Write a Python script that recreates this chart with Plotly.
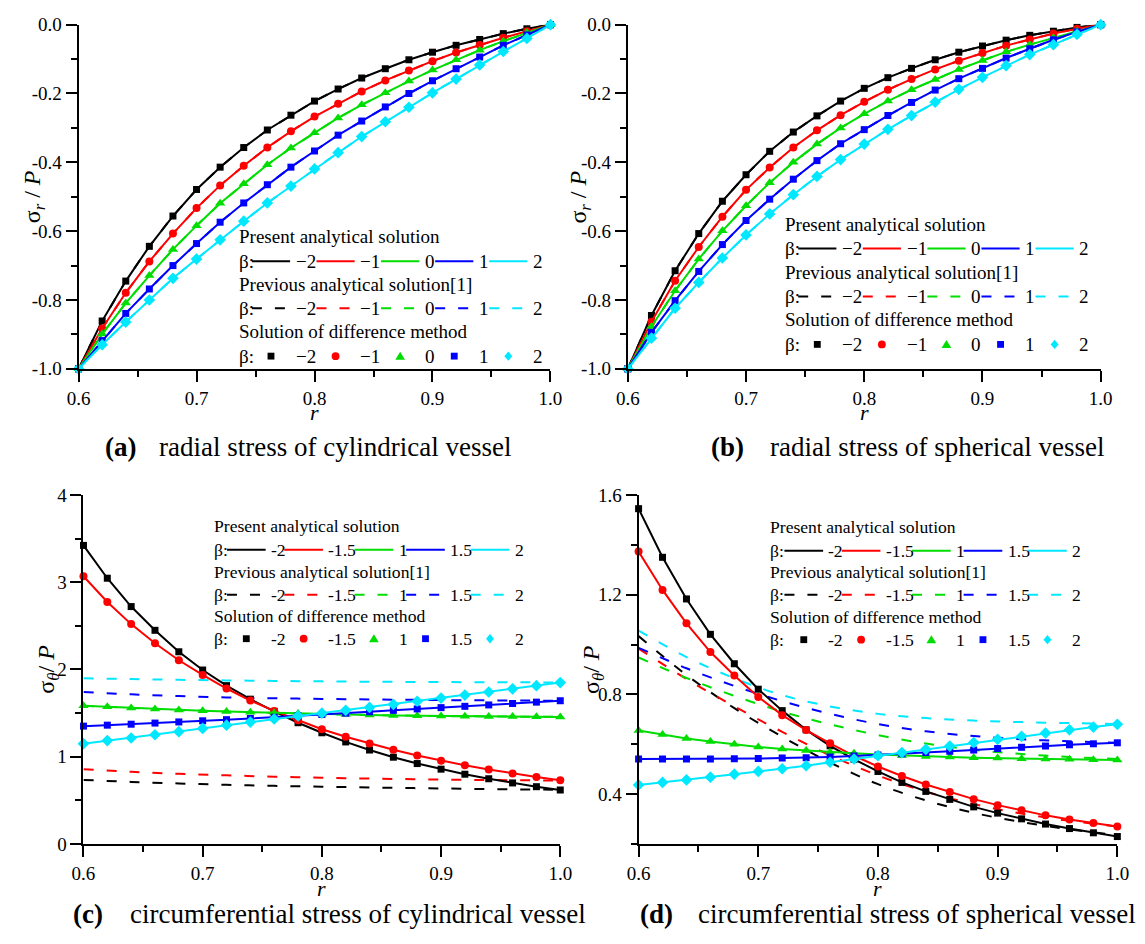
import plotly.graph_objects as go

W, H = 1145, 944
FONT = "Liberation Serif"

# ---------------- data ----------------
r = [0.60, 0.62, 0.64, 0.66, 0.68, 0.70, 0.72, 0.74, 0.76, 0.78, 0.80,
     0.82, 0.84, 0.86, 0.88, 0.90, 0.92, 0.94, 0.96, 0.98, 1.00]
r_prev = [0.60, 0.64, 0.68, 0.72, 0.76, 0.80, 0.84, 0.88, 0.92, 0.96, 1.00]

# (a) radial stress, cylindrical vessel (beta = -2, -1, 0, 1, 2)
a_bm2 = [-1.000, -0.861, -0.745, -0.644, -0.556, -0.479, -0.414, -0.357, -0.306, -0.263, -0.222,
         -0.187, -0.155, -0.128, -0.102, -0.080, -0.060, -0.043, -0.026, -0.012, 0.000]
a_bm1 = [-1.000, -0.883, -0.779, -0.688, -0.607, -0.533, -0.467, -0.410, -0.357, -0.310, -0.267,
         -0.230, -0.194, -0.162, -0.133, -0.106, -0.081, -0.059, -0.038, -0.019, 0.000]
a_b0 = [-1.000, -0.899, -0.809, -0.729, -0.653, -0.584, -0.519, -0.462, -0.407, -0.358, -0.314,
        -0.271, -0.233, -0.198, -0.164, -0.132, -0.102, -0.074, -0.048, -0.023, 0.000]
a_b1 = [-1.000, -0.918, -0.839, -0.768, -0.700, -0.636, -0.574, -0.518, -0.465, -0.414, -0.367,
        -0.321, -0.280, -0.239, -0.200, -0.163, -0.128, -0.094, -0.060, -0.030, 0.000]
a_b2 = [-1.000, -0.930, -0.864, -0.800, -0.737, -0.681, -0.625, -0.571, -0.518, -0.469, -0.419,
        -0.372, -0.325, -0.282, -0.240, -0.198, -0.158, -0.117, -0.078, -0.040, 0.000]

# (b) radial stress, spherical vessel (beta = -2, -1, 0, 1, 2)
b_bm2 = [-1.000, -0.845, -0.715, -0.607, -0.513, -0.436, -0.368, -0.312, -0.265, -0.222, -0.185,
         -0.154, -0.127, -0.102, -0.080, -0.062, -0.045, -0.031, -0.019, -0.008, 0.000]
b_bm1 = [-1.000, -0.863, -0.744, -0.646, -0.558, -0.480, -0.415, -0.357, -0.307, -0.263, -0.224,
         -0.189, -0.158, -0.130, -0.105, -0.082, -0.061, -0.043, -0.026, -0.012, 0.000]
b_b0 = [-1.000, -0.877, -0.773, -0.681, -0.599, -0.526, -0.459, -0.400, -0.347, -0.300, -0.259,
        -0.222, -0.189, -0.159, -0.130, -0.104, -0.079, -0.058, -0.038, -0.019, 0.000]
b_b1 = [-1.000, -0.894, -0.802, -0.717, -0.639, -0.569, -0.507, -0.449, -0.395, -0.346, -0.305,
        -0.264, -0.226, -0.190, -0.157, -0.127, -0.097, -0.070, -0.044, -0.021, 0.000]
b_b2 = [-1.000, -0.911, -0.824, -0.749, -0.678, -0.611, -0.550, -0.494, -0.441, -0.392, -0.347,
        -0.304, -0.264, -0.225, -0.188, -0.153, -0.119, -0.087, -0.058, -0.028, 0.000]

# (c) circumferential stress, cylindrical vessel (beta = -2, -1.5, 1, 1.5, 2)
c_bm2 = [3.422, 3.046, 2.721, 2.449, 2.203, 1.994, 1.815, 1.660, 1.520, 1.390, 1.275,
         1.170, 1.077, 0.995, 0.922, 0.858, 0.800, 0.748, 0.700, 0.657, 0.619]
c_bm15 = [3.068, 2.774, 2.520, 2.300, 2.106, 1.938, 1.782, 1.644, 1.525, 1.417, 1.316,
          1.230, 1.152, 1.081, 1.014, 0.954, 0.902, 0.854, 0.809, 0.768, 0.731]
c_b1 = [1.585, 1.572, 1.560, 1.548, 1.537, 1.527, 1.518, 1.510, 1.502, 1.495, 1.489,
        1.483, 1.478, 1.474, 1.470, 1.467, 1.464, 1.462, 1.460, 1.458, 1.457]
c_b15 = [1.351, 1.362, 1.373, 1.386, 1.399, 1.412, 1.425, 1.439, 1.453, 1.468, 1.484,
         1.500, 1.516, 1.532, 1.548, 1.563, 1.578, 1.594, 1.610, 1.626, 1.642]
c_b2 = [1.150, 1.185, 1.215, 1.252, 1.288, 1.325, 1.362, 1.398, 1.433, 1.468, 1.500,
        1.532, 1.565, 1.600, 1.636, 1.672, 1.707, 1.742, 1.778, 1.815, 1.850]
c_prev_bm2 = [0.735, 0.712, 0.694, 0.679, 0.667, 0.657, 0.648, 0.640, 0.633, 0.627, 0.622]
c_prev_bm15 = [0.858, 0.828, 0.805, 0.787, 0.772, 0.760, 0.750, 0.742, 0.736, 0.731, 0.727]
c_prev_b1 = [1.585, 1.560, 1.537, 1.518, 1.502, 1.489, 1.478, 1.470, 1.464, 1.460, 1.457]
c_prev_b15 = [1.743, 1.715, 1.695, 1.680, 1.670, 1.663, 1.657, 1.652, 1.648, 1.645, 1.642]
c_prev_b2 = [1.900, 1.890, 1.882, 1.875, 1.869, 1.864, 1.860, 1.857, 1.855, 1.853, 1.852]

# (d) circumferential stress, spherical vessel (beta = -2, -1.5, 1, 1.5, 2)
d_bm2 = [1.545, 1.350, 1.183, 1.041, 0.923, 0.821, 0.735, 0.658, 0.594, 0.540, 0.491,
         0.447, 0.411, 0.379, 0.349, 0.324, 0.301, 0.280, 0.262, 0.245, 0.230]
d_bm15 = [1.373, 1.219, 1.085, 0.970, 0.876, 0.790, 0.717, 0.657, 0.604, 0.554, 0.511,
          0.473, 0.439, 0.409, 0.380, 0.356, 0.335, 0.315, 0.298, 0.284, 0.270]
d_b1 = [0.655, 0.639, 0.623, 0.611, 0.600, 0.589, 0.581, 0.575, 0.568, 0.564, 0.559,
        0.555, 0.551, 0.549, 0.546, 0.545, 0.542, 0.541, 0.540, 0.538, 0.537]
d_b15 = [0.541, 0.541, 0.541, 0.541, 0.542, 0.543, 0.545, 0.546, 0.549, 0.553, 0.557,
         0.562, 0.567, 0.572, 0.577, 0.583, 0.588, 0.593, 0.598, 0.602, 0.606]
d_b2 = [0.437, 0.447, 0.457, 0.468, 0.480, 0.491, 0.502, 0.514, 0.528, 0.541, 0.554,
        0.567, 0.580, 0.593, 0.607, 0.620, 0.632, 0.645, 0.658, 0.669, 0.680]
d_prev_bm2 = [1.034, 0.878, 0.745, 0.630, 0.527, 0.440, 0.375, 0.325, 0.288, 0.259, 0.236]
d_prev_bm15 = [0.984, 0.862, 0.752, 0.650, 0.556, 0.475, 0.410, 0.360, 0.322, 0.293, 0.270]
d_prev_b1 = [0.948, 0.866, 0.794, 0.731, 0.680, 0.637, 0.603, 0.578, 0.561, 0.549, 0.541]
d_prev_b15 = [0.987, 0.905, 0.834, 0.773, 0.722, 0.681, 0.652, 0.633, 0.620, 0.612, 0.606]
d_prev_b2 = [1.056, 0.950, 0.865, 0.797, 0.752, 0.722, 0.705, 0.695, 0.689, 0.685, 0.681]

# tick labels / legend labels
x_tickvals = [0.6, 0.7, 0.8, 0.9, 1.0]
x_ticktext = ["0.6", "0.7", "0.8", "0.9", "1.0"]
ab_tickvals = [-1.0, -0.8, -0.6, -0.4, -0.2, 0.0]
ab_ticktext = ["-1.0", "-0.8", "-0.6", "-0.4", "-0.2", "0.0"]
c_tickvals = [0, 1, 2, 3, 4]
c_ticktext = ["0", "1", "2", "3", "4"]
d_tickvals = [0.4, 0.8, 1.2, 1.6]
d_ticktext = ["0.4", "0.8", "1.2", "1.6"]
ab_labels = ["\u22122", "\u22121", "0", "1", "2"]
cd_labels = ["-2", "-1.5", "1", "1.5", "2"]
legend_heads = ["Present analytical solution", "Previous analytical solution[1]",
                "Solution of difference method"]
captions = [("(a)", "radial stress of cylindrical vessel"),
            ("(b)", "radial stress of spherical vessel"),
            ("(c)", "circumferential stress of cylindrical vessel"),
            ("(d)", "circumferential stress of spherical vessel")]

# ---------------- style ----------------
colors = ["#000000", "#ff0000", "#00dd00", "#0000ff", "#00e8ff"]
symbols = ["square", "circle", "triangle-up", "square", "diamond"]
msizes = [7, 8, 9, 7, 9]
DASH = "10px,13px"

panels = [
    dict(xa="x", ya="y", box=(68, 550, 15, 367), present=[a_bm2, a_bm1, a_b0, a_b1, a_b2],
         prev_x=r, prev=[a_bm2, a_bm1, a_b0, a_b1, a_b2], yr=[-1, 0],
         tv=ab_tickvals, tt=ab_ticktext, mdt=0.1, m0=-1.0,
         ytitle="\u03c3<sub><i>r</i></sub> / <i>P</i>", ytx=22,
         leg=dict(x0=231, ys=[232, 257, 281, 305, 329, 354], fs=19, L=39, g=2, lead=-1.7,
                  labels=ab_labels),
         cap=(94, 149, 447), xt_y=412),
    dict(xa="x2", ya="y2", box=(629, 1112, 15, 367), present=[b_bm2, b_bm1, b_b0, b_b1, b_b2],
         prev_x=r, prev=[b_bm2, b_bm1, b_b0, b_b1, b_b2], yr=[-1, 0],
         tv=ab_tickvals, tt=ab_ticktext, mdt=0.1, m0=-1.0,
         ytitle="\u03c3<sub><i>r</i></sub> / <i>P</i>", ytx=580,
         leg=dict(x0=789, ys=[219, 244, 268, 293, 317, 342], fs=19, L=39, g=2, lead=-1.7,
                  labels=ab_labels),
         cap=(713, 773, 447), xt_y=412),
    dict(xa="x3", ya="y3", box=(73, 560, 496, 853), present=[c_bm2, c_bm15, c_b1, c_b15, c_b2],
         prev_x=r_prev, prev=[c_prev_bm2, c_prev_bm15, c_prev_b1, c_prev_b15, c_prev_b2], yr=[0, 4],
         tv=c_tickvals, tt=c_ticktext, mdt=0.5, m0=0,
         ytitle="\u03c3<sub><i>\u03b8</i></sub>/ <i>P</i>", ytx=37,
         leg=dict(x0=205, ys=[528, 552, 575, 598, 620, 643], fs=17.6, L=39.5, g=0, lead=0,
                  labels=cd_labels),
         cap=(61, 120, 925), xt_y=898),
    dict(xa="x4", ya="y4", box=(640, 1129, 496, 853), present=[d_bm2, d_bm15, d_b1, d_b15, d_b2],
         prev_x=r_prev, prev=[d_prev_bm2, d_prev_bm15, d_prev_b1, d_prev_b15, d_prev_b2], yr=[0.2, 1.6],
         tv=d_tickvals, tt=d_ticktext, mdt=0.2, m0=0.2,
         ytitle="\u03c3<sub><i>\u03b8</i></sub>/ <i>P</i>", ytx=594,
         leg=dict(x0=773, ys=[529, 553, 575, 598, 621, 644], fs=17.6, L=39.5, g=0, lead=1.4,
                  labels=cd_labels),
         cap=(640, 700, 925), xt_y=898),
]


def PX(p):
    return p / W


def PY(p):
    return 1 - p / H


CW = {"\u03b2": 0.55, ":": 0.278, " ": 0.25, "-": 0.333, "\u2212": 0.564, ".": 0.25}


def tw(s, fs):
    return sum(CW.get(ch, 0.5) for ch in s) * fs


def ann(x, y, text, size, anchor="left", angle=0):
    return dict(x=PX(x), y=PY(y), xref="paper", yref="paper", text=text, showarrow=False,
                xanchor=anchor, yanchor="middle", borderpad=0, textangle=angle,
                font=dict(family=FONT, size=size, color="black"))


fig = go.Figure()
shapes = []
anns = []
layout_axes = {}

for k, p in enumerate(panels):
    # previous analytical solution (dashed, underneath)
    for i in range(5):
        fig.add_trace(go.Scatter(
            x=p["prev_x"], y=p["prev"][i], xaxis=p["xa"], yaxis=p["ya"], mode="lines",
            line=dict(color=colors[i], width=2, dash=DASH,
                      shape="spline" if p["prev_x"] is r_prev else "linear"),
            showlegend=False, hoverinfo="skip"))
    # present solution + difference method markers
    for i in range(5):
        fig.add_trace(go.Scatter(
            x=r, y=p["present"][i], xaxis=p["xa"], yaxis=p["ya"], mode="lines+markers",
            line=dict(color=colors[i], width=2),
            marker=dict(symbol=symbols[i], size=msizes[i], color=colors[i], line=dict(width=0)),
            cliponaxis=False, showlegend=False))

    x0, x1, y0, y1 = p["box"]
    sx = "" if p["xa"] == "x" else p["xa"][1:]
    common = dict(showline=True, linecolor="black", linewidth=2, ticks="outside", ticklen=11,
                  tickwidth=2, tickcolor="black", showgrid=False, zeroline=False,
                  tickfont=dict(family=FONT, size=19, color="black"), fixedrange=True)
    layout_axes["xaxis" + sx] = dict(
        domain=[PX(x0), PX(x1)], range=[0.6, 1.0], anchor=p["ya"], tickmode="array",
        tickvals=x_tickvals, ticktext=x_ticktext,
        minor=dict(ticks="outside", ticklen=6, tickwidth=2, tickcolor="black", dtick=0.05, tick0=0.6),
        **common)
    layout_axes["yaxis" + sx] = dict(
        domain=[PY(y1), PY(y0)], range=p["yr"], anchor=p["xa"], tickmode="array",
        tickvals=p["tv"], ticktext=p["tt"],
        minor=dict(ticks="outside", ticklen=6, tickwidth=2, tickcolor="black", dtick=p["mdt"], tick0=p["m0"]),
        **common)

    # axis titles
    anns.append(ann(p["ytx"], (y0 + y1) / 2, p["ytitle"], 24, anchor="center", angle=-90))
    anns.append(ann((x0 + x1) / 2, p["xt_y"], "<i>r</i>", 22, anchor="center"))
    # caption
    cx1, cx2, cy = p["cap"]
    anns.append(ann(cx1, cy, "<b>" + captions[k][0] + "</b>", 27))
    anns.append(ann(cx2, cy, captions[k][1], 27))

    # custom legend
    lg = p["leg"]
    fs, L, g = lg["fs"], lg["L"], lg["g"]
    for row in range(3):
        anns.append(ann(lg["x0"], lg["ys"][2 * row], legend_heads[row], fs))
        yr_ = lg["ys"][2 * row + 1]
        anns.append(ann(lg["x0"], yr_, "\u03b2:", fs))
        cur = lg["x0"] + tw("\u03b2:", fs) + lg["lead"]
        for i in range(5):
            if row < 2:
                shapes.append(dict(type="line", xref="paper", yref="paper",
                                   x0=PX(cur), x1=PX(cur + L), y0=PY(yr_), y1=PY(yr_),
                                   line=dict(color=colors[i], width=2,
                                             dash="solid" if row == 0 else DASH)))
            else:
                cxm = cur + L / 2
                col = colors[i]
                sym = symbols[i]
                if sym == "square":
                    s = 3.5
                    shapes.append(dict(type="rect", xref="paper", yref="paper",
                                       x0=PX(cxm - s), x1=PX(cxm + s), y0=PY(yr_ + s), y1=PY(yr_ - s),
                                       fillcolor=col, line=dict(width=0)))
                elif sym == "circle":
                    s = 4
                    shapes.append(dict(type="circle", xref="paper", yref="paper",
                                       x0=PX(cxm - s), x1=PX(cxm + s), y0=PY(yr_ + s), y1=PY(yr_ - s),
                                       fillcolor=col, line=dict(width=0)))
                elif sym == "triangle-up":
                    s = 4.5
                    path = "M {},{} L {},{} L {},{} Z".format(
                        PX(cxm), PY(yr_ - s), PX(cxm - s * 1.1), PY(yr_ + s * 0.8),
                        PX(cxm + s * 1.1), PY(yr_ + s * 0.8))
                    shapes.append(dict(type="path", xref="paper", yref="paper", path=path,
                                       fillcolor=col, line=dict(width=0)))
                else:
                    s = 4.8
                    path = "M {},{} L {},{} L {},{} L {},{} Z".format(
                        PX(cxm), PY(yr_ - s), PX(cxm + s * 0.85), PY(yr_),
                        PX(cxm), PY(yr_ + s), PX(cxm - s * 0.85), PY(yr_))
                    shapes.append(dict(type="path", xref="paper", yref="paper", path=path,
                                       fillcolor=col, line=dict(width=0)))
            cur += L
            lab = lg["labels"][i]
            anns.append(ann(cur + tw(" ", fs), yr_, lab, fs))
            cur += tw(" " + lab, fs) + g

fig.update_layout(
    width=W, height=H, margin=dict(l=0, r=0, t=0, b=0, pad=0),
    paper_bgcolor="white", plot_bgcolor="white", showlegend=False,
    shapes=shapes, annotations=anns, font=dict(family=FONT, color="black"),
    **layout_axes)

fig.write_html("out.html", config={"displayModeBar": False},
               post_script="document.body.style.margin='0px';document.body.style.overflow='hidden';")
